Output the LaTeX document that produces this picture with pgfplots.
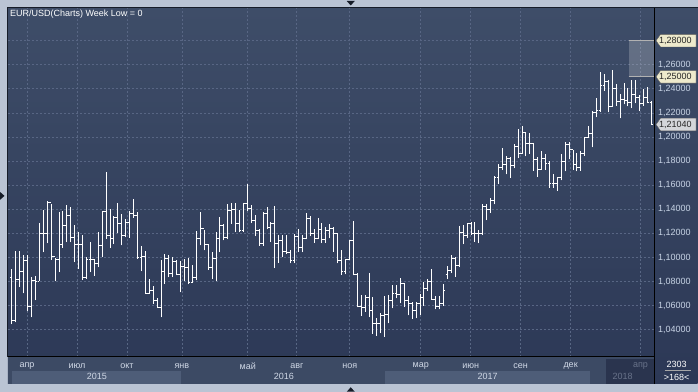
\documentclass[border=0pt]{standalone}
\usepackage{fontspec}
\setmainfont{Liberation Sans}
\usepackage{pgfplots}
\pgfplotsset{compat=1.18}
\usepackage{pgfplotstable}
\definecolor{outer}{RGB}{186,196,212}
\definecolor{plottop}{RGB}{62,77,104}
\definecolor{plotbot}{RGB}{44,56,86}
\definecolor{gridc}{RGB}{88,102,132}
\definecolor{strip}{RGB}{60,74,100}
\definecolor{yearband}{RGB}{78,93,120}
\definecolor{dark18}{RGB}{42,52,78}
\definecolor{ticklab}{RGB}{200,212,230}
\definecolor{monlab}{RGB}{208,216,230}
\definecolor{greylab}{RGB}{105,115,138}
\definecolor{cream}{RGB}{238,234,204}
\definecolor{greybox}{RGB}{212,214,218}
\definecolor{border}{RGB}{22,28,40}
\pgfdeclareplotmark{ohlcO}{\pgfpathmoveto{\pgfqpoint{-1.9pt}{0pt}}\pgfpathlineto{\pgfqpoint{0pt}{0pt}}\pgfusepathqstroke}
\pgfdeclareplotmark{ohlcC}{\pgfpathmoveto{\pgfqpoint{0pt}{0pt}}\pgfpathlineto{\pgfqpoint{1.9pt}{0pt}}\pgfusepathqstroke}
\pgfplotstableread{
i O H L C
0 1.0836 1.0906 1.0447 1.0480
1 1.0480 1.1053 1.0461 1.0816
2 1.0816 1.1053 1.0753 1.0883
3 1.0883 1.1017 1.0703 1.0975
4 1.0975 1.1022 1.0553 1.0592
5 1.0592 1.0842 1.0503 1.0805
6 1.0805 1.0850 1.0647 1.0800
7 1.0800 1.1286 1.0808 1.1200
8 1.1200 1.1392 1.1044 1.1197
9 1.1197 1.1466 1.1119 1.1453
10 1.1453 1.1447 1.0983 1.1010
11 1.1010 1.0997 1.0802 1.0986
12 1.0986 1.1378 1.0878 1.1111
13 1.1111 1.1386 1.1080 1.1262
14 1.1262 1.1433 1.1128 1.1350
15 1.1350 1.1419 1.1128 1.1165
16 1.1165 1.1267 1.0961 1.1110
17 1.1110 1.1211 1.0906 1.1108
18 1.1108 1.1183 1.0814 1.0830
19 1.0830 1.1008 1.0822 1.0982
20 1.0982 1.1128 1.0878 1.0983
21 1.0983 1.0990 1.0850 1.0953
22 1.0953 1.1211 1.0920 1.1100
23 1.1100 1.1386 1.1003 1.1378
24 1.1378 1.1711 1.1155 1.1183
25 1.1183 1.1405 1.1080 1.1155
26 1.1155 1.1342 1.1114 1.1331
27 1.1331 1.1455 1.1203 1.1286
28 1.1286 1.1358 1.1100 1.1183
29 1.1183 1.1322 1.1169 1.1290
30 1.1290 1.1386 1.1164 1.1364
31 1.1364 1.1489 1.1330 1.1350
32 1.1350 1.1378 1.0989 1.1003
33 1.1003 1.1092 1.0886 1.1008
34 1.1008 1.1053 1.0697 1.0703
35 1.0703 1.0822 1.0697 1.0730
36 1.0730 1.0766 1.0614 1.0641
37 1.0641 1.0664 1.0580 1.0586
38 1.0586 1.0975 1.0503 1.0880
39 1.0880 1.1031 1.0780 1.0989
40 1.0989 1.1017 1.0836 1.0870
41 1.0870 1.1003 1.0836 1.0965
42 1.0965 1.0981 1.0851 1.0855
43 1.0855 1.0970 1.0711 1.0925
44 1.0925 1.0985 1.0805 1.0916
45 1.0916 1.0992 1.0778 1.0795
46 1.0795 1.0940 1.0790 1.0831
47 1.0831 1.1220 1.0810 1.1158
48 1.1158 1.1377 1.1100 1.1239
49 1.1239 1.1231 1.1058 1.1110
50 1.1110 1.1114 1.0897 1.0919
51 1.0919 1.1044 1.0822 1.0989
52 1.0989 1.1211 1.0808 1.1156
53 1.1156 1.1336 1.1044 1.1267
54 1.1267 1.1281 1.1142 1.1170
55 1.1170 1.1447 1.1150 1.1392
56 1.1392 1.1453 1.1281 1.1397
57 1.1397 1.1453 1.1211 1.1281
58 1.1281 1.1392 1.1211 1.1225
59 1.1225 1.1453 1.1211 1.1447
60 1.1447 1.1614 1.1384 1.1403
61 1.1403 1.1434 1.1286 1.1309
62 1.1309 1.1349 1.1177 1.1224
63 1.1224 1.1236 1.1097 1.1114
64 1.1114 1.1375 1.1099 1.1369
65 1.1369 1.1416 1.1235 1.1253
66 1.1253 1.1297 1.1131 1.1278
67 1.1278 1.1428 1.0912 1.1117
68 1.1117 1.1187 1.0957 1.1137
69 1.1137 1.1186 1.1000 1.1051
70 1.1051 1.1185 1.1030 1.1040
71 1.1040 1.1060 1.0952 1.0975
72 1.0975 1.1198 1.0953 1.1175
73 1.1175 1.1236 1.1046 1.1085
74 1.1085 1.1185 1.1045 1.1160
75 1.1160 1.1366 1.1150 1.1325
76 1.1325 1.1342 1.1178 1.1196
77 1.1196 1.1240 1.1122 1.1155
78 1.1155 1.1327 1.1155 1.1233
79 1.1233 1.1283 1.1120 1.1152
80 1.1152 1.1250 1.1123 1.1228
81 1.1228 1.1279 1.1158 1.1243
82 1.1243 1.1255 1.1048 1.1201
83 1.1201 1.1205 1.0952 1.0971
84 1.0971 1.1058 1.0858 1.0880
85 1.0880 1.0989 1.0860 1.0982
86 1.0982 1.1145 1.0976 1.1140
87 1.1140 1.1300 1.0851 1.0859
88 1.0859 1.0870 1.0585 1.0590
89 1.0590 1.0685 1.0518 1.0588
90 1.0588 1.0690 1.0550 1.0664
91 1.0664 1.0874 1.0505 1.0560
92 1.0560 1.0668 1.0367 1.0450
93 1.0450 1.0495 1.0352 1.0455
94 1.0455 1.0540 1.0372 1.0520
95 1.0520 1.0684 1.0340 1.0530
96 1.0530 1.0685 1.0454 1.0645
97 1.0645 1.0775 1.0578 1.0700
98 1.0700 1.0775 1.0660 1.0695
99 1.0695 1.0830 1.0620 1.0785
100 1.0785 1.0790 1.0590 1.0640
101 1.0640 1.0680 1.0520 1.0615
102 1.0615 1.0630 1.0493 1.0560
103 1.0560 1.0630 1.0494 1.0620
104 1.0620 1.0700 1.0525 1.0670
105 1.0670 1.0800 1.0600 1.0740
106 1.0740 1.0825 1.0725 1.0800
107 1.0800 1.0906 1.0650 1.0650
108 1.0650 1.0680 1.0570 1.0595
109 1.0595 1.0680 1.0570 1.0615
110 1.0615 1.0780 1.0600 1.0730
111 1.0860 1.0930 1.0820 1.0895
112 1.0895 1.1020 1.0870 1.0995
113 1.0995 1.1000 1.0840 1.0935
114 1.0935 1.1265 1.0920 1.1205
115 1.1205 1.1270 1.1110 1.1180
116 1.1180 1.1285 1.1160 1.1280
117 1.1280 1.1295 1.1190 1.1195
118 1.1195 1.1296 1.1130 1.1200
119 1.1200 1.1225 1.1120 1.1195
120 1.1195 1.1445 1.1185 1.1425
121 1.1425 1.1445 1.1310 1.1400
122 1.1400 1.1490 1.1370 1.1470
123 1.1470 1.1680 1.1440 1.1665
124 1.1665 1.1775 1.1610 1.1750
125 1.1750 1.1910 1.1730 1.1775
126 1.1775 1.1845 1.1690 1.1820
127 1.1820 1.1830 1.1660 1.1760
128 1.1760 1.1940 1.1740 1.1925
129 1.1925 1.2070 1.1825 1.1860
130 1.1860 1.2090 1.1860 1.2035
131 1.2035 1.2040 1.1840 1.1945
132 1.1945 1.2035 1.1860 1.1950
133 1.1950 1.1950 1.1720 1.1810
134 1.1810 1.1835 1.1670 1.1730
135 1.1730 1.1880 1.1730 1.1820
136 1.1820 1.1860 1.1730 1.1780
137 1.1780 1.1800 1.1575 1.1610
138 1.1610 1.1690 1.1575 1.1610
139 1.1610 1.1670 1.1555 1.1665
140 1.1665 1.1860 1.1640 1.1795
141 1.1795 1.1960 1.1715 1.1935
142 1.1935 1.1960 1.1815 1.1895
143 1.1895 1.1895 1.1730 1.1770
144 1.1770 1.1865 1.1715 1.1750
145 1.1750 1.1880 1.1720 1.1860
146 1.1860 1.2000 1.1845 1.2000
147 1.2000 1.2090 1.1995 1.2030
148 1.2030 1.2220 1.1915 1.2200
149 1.2200 1.2325 1.2165 1.2220
150 1.2220 1.2540 1.2210 1.2425
151 1.2425 1.2525 1.2385 1.2460
152 1.2460 1.2475 1.2205 1.2250
153 1.2250 1.2555 1.2250 1.2405
154 1.2405 1.2440 1.2260 1.2295
155 1.2295 1.2355 1.2155 1.2310
156 1.2310 1.2445 1.2270 1.2305
157 1.2305 1.2410 1.2255 1.2285
158 1.2285 1.2475 1.2240 1.2350
159 1.2350 1.2475 1.2280 1.2325
160 1.2325 1.2345 1.2215 1.2280
161 1.2280 1.2395 1.2260 1.2330
162 1.2330 1.2415 1.2285 1.2290
163 1.2290 1.2296 1.2100 1.2104
}\ohlc
\begin{document}
\begin{tikzpicture}[x=1pt,y=1pt,font=\fontsize{9}{10}\selectfont]
\fill[outer] (0,0) rectangle (698,392);
\shade[top color=plottop, bottom color=plotbot] (8,8) rectangle (698,384);
% bottom date strip
\fill[strip] (8,8) rectangle (655,35);
\fill[yearband] (12,8) rectangle (181,21);
\fill[yearband] (385,8) rectangle (590,21);
\fill[dark18] (606,8) rectangle (655,33);
\begin{axis}[
  at={(8pt,35pt)}, anchor=south west, scale only axis,
  width=647pt, height=349pt,
  xmin=-1.019, xmax=163.78, ymin=1.0176, ymax=1.3071,
  axis line style={draw=none},
  major tick length=0pt,
  xtick={3.82,16.56,29.29,43.30,60.11,72.59,86.09,104.18,116.91,129.65,142.38,160.21},
  xticklabels={},
  ytick={1.04,1.06,1.08,1.10,1.12,1.14,1.16,1.18,1.20,1.22,1.24,1.26},
  extra y ticks={1.28}, extra y tick labels={},
  yticklabel pos=right,
  yticklabel style={text=ticklab, anchor=west, font=\fontsize{9}{10}\selectfont},
  /pgf/number format/.cd, fixed, fixed zerofill, precision=5, use comma, assume math mode=true,
  /pgfplots/.cd,
  grid=major,
  grid style={gridc, dash pattern=on 2pt off 2pt, line width=0.7pt},
  clip=true,
]
\fill[white, opacity=0.2] (axis cs:157.16,1.25) rectangle (axis cs:163.78,1.28);
\draw[gray!60!white, line width=1.3pt] (axis cs:157.16,1.28) -- (axis cs:163.78,1.28);
\draw[gray!60!white, line width=1.3pt] (axis cs:157.16,1.25) -- (axis cs:163.78,1.25);
\addplot[only marks, mark=*, mark size=0pt, white,
  error bars/.cd, y dir=plus, y explicit, error mark=none,
  error bar style={white, line width=1pt}]
  table[x=i, y=L, y error plus expr=\thisrow{H}-\thisrow{L}] {\ohlc};
\addplot[only marks, mark=ohlcO, mark options={white, line width=1pt}] table[x=i, y=O] {\ohlc};
\addplot[only marks, mark=ohlcC, mark options={white, line width=1pt}] table[x=i, y=C] {\ohlc};
\end{axis}
% frame lines
\draw[border, line width=1pt] (8,35) -- (8,384) -- (698,384);
\draw[black, line width=1pt] (8,35) -- (655,35);
\draw[black, line width=1pt] (655,8) -- (655,384);
% title
\node[anchor=west, text=white, inner sep=0pt] at (10,377.5) {EUR/USD(Charts) Week Low = 0};
% highlighted price labels
\foreach \yc/\lab/\col in {351.3/{1,28000}/cream, 315.1/{1,25000}/cream, 267.4/{1,21040}/greybox}{
  \fill[\col, draw=gray!70!black, line width=0.4pt] (656.5,\yc) -- (661,\yc+6.3) -- (696.5,\yc+6.3) -- (696.5,\yc-6.3) -- (661,\yc-6.3) -- cycle;
  \node[anchor=west, text=black!85, inner sep=0pt] at (659.5,\yc) {\lab};
}
% month labels
\foreach \xx/\mm in {27/апр,77/июл,127/окт,182/янв,248/май,297/авг,350/ноя,421/мар,471/июн,521/сен,571/дек}{
  \node[text=monlab, inner sep=0pt] at (\xx,26) {\mm};
}
\node[text=greylab, inner sep=0pt] at (641,26) {апр};
\node[text=monlab, inner sep=0pt] at (97,15) {2015};
\node[text=monlab, inner sep=0pt] at (284,15) {2016};
\node[text=monlab, inner sep=0pt] at (488,15) {2017};
\node[text=greylab, inner sep=0pt] at (623,15) {2018};
% bottom-right info
\node[text=white, inner sep=0pt] at (677,27) {2303};
\draw[gray!70!white, line width=0.6pt] (665,21) -- (691,21);
\node[text=white, inner sep=0pt] at (677,14) {>168<};
% small triangles
\fill[border] (347,391) -- (355,391) -- (351,386.5) -- cycle;
\fill[border] (0,200) -- (0,192) -- (4.5,196) -- cycle;
\fill[border] (347,0) -- (355,0) -- (351,4.5) -- cycle;
\end{tikzpicture}
\end{document}
